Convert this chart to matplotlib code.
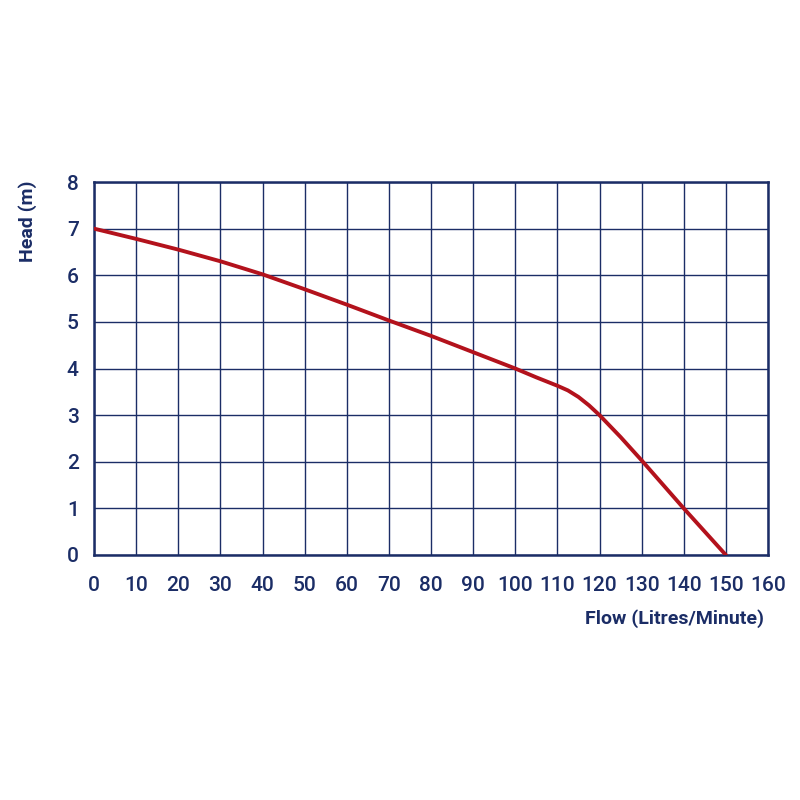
import matplotlib.pyplot as plt

# Pump curve
flow = [0, 10, 20, 30, 40, 50, 60, 70, 80, 90, 100, 105, 110, 112.5, 115, 117.5, 120, 125, 130, 140, 150]
head = [7.0, 6.78, 6.55, 6.3, 6.02, 5.7, 5.37, 5.03, 4.7, 4.35, 4.0, 3.81, 3.63, 3.53, 3.39, 3.21, 3.0, 2.53, 2.03, 1.0, 0.0]

x_ticks = list(range(0, 161, 10))
y_ticks = list(range(0, 9))

navy = "#1b2d66"
red = "#b3121c"

plt.rcParams['font.family'] = ['Roboto', 'DejaVu Sans']

fig = plt.figure(figsize=(8, 8), dpi=100)
ax = fig.add_axes([0.1175, 0.30625, 0.8425, 0.46625])

ax.plot(flow, head, color=red, linewidth=2.8, solid_capstyle='round',
        solid_joinstyle='round', zorder=3)

ax.set_xlim(0, 160)
ax.set_ylim(0, 8)
ax.set_xticks(x_ticks)
ax.set_yticks(y_ticks)
ax.grid(True, color=navy, linewidth=1.0)
ax.tick_params(length=0, labelsize=15, colors=navy)
ax.tick_params(axis='x', pad=15)
ax.tick_params(axis='y', pad=11)
for lab in ax.get_xticklabels() + ax.get_yticklabels():
    lab.set_fontweight('medium')
for s in ax.spines.values():
    s.set_color(navy)
    s.set_linewidth(1.8)

fig.text(0.035, 0.775, "Head (m)", rotation=90, ha='center', va='top',
         fontsize=14, fontweight='bold', color=navy)
fig.text(0.955, 0.227, "Flow (Litres/Minute)", ha='right', va='center',
         fontsize=14, fontweight='bold', color=navy)

fig.savefig("out.png", dpi=100)
